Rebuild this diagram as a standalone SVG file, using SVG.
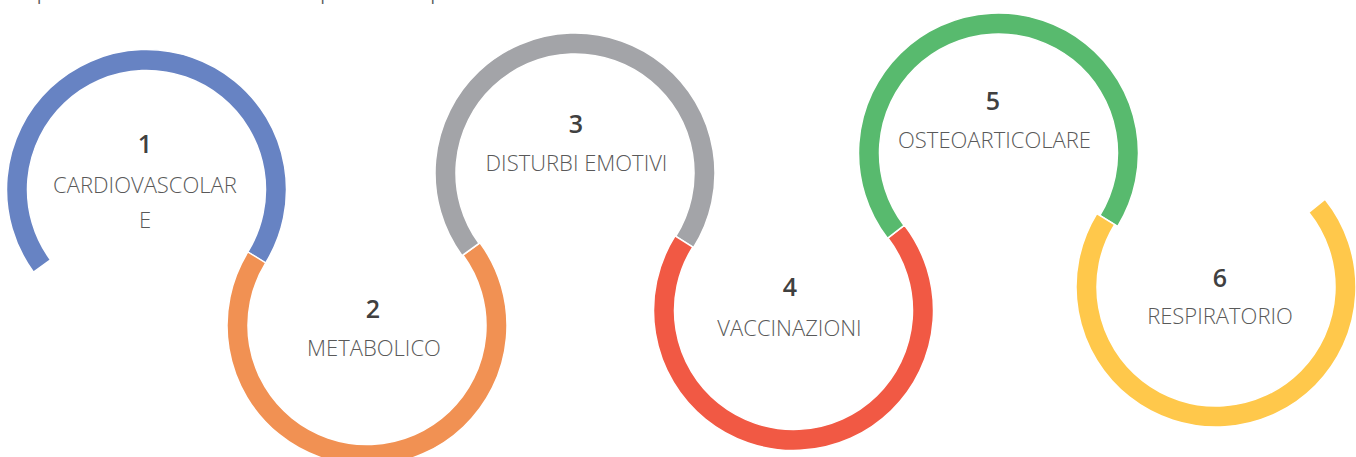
<svg xmlns="http://www.w3.org/2000/svg" width="1356" height="457" viewBox="0 0 1356 457">
<style>
.arc{stroke:#fff;stroke-width:1.5;stroke-linejoin:miter}
.num{font-family:"Open Sans","Liberation Sans",sans-serif;font-size:25px;font-weight:600;fill:#404040;text-anchor:middle}
.lbl{font-family:"Open Sans","Liberation Sans",sans-serif;font-size:22px;font-weight:300;fill:#595959;text-anchor:middle}
.top{font-family:"Open Sans","Liberation Sans",sans-serif;font-size:17px;fill:#595959}
</style>
<rect width="1356" height="457" fill="#fff"/>
<text class="top" x="37" y="-0.5">professionali al momento della compilazione del questionario</text>
<g id="node1">
<path class="arc" fill="#6783C3" d="M33.52,272.18 A140,140 0 1 1 265.61,263.07 L247.75,252.03 A119,119 0 1 0 50.47,259.78 Z"/>
<text class="num" x="145" y="153">1</text>
<text class="lbl" x="145" y="193">CARDIOVASCOLAR</text>
<text class="lbl" x="145" y="228">E</text>
</g>
<g id="node2">
<path class="arc" fill="#F19153" d="M479.98,242.82 A140,140 0 1 1 247.89,251.93 L265.75,262.97 A119,119 0 1 0 463.03,255.22 Z"/>
<text class="num" x="373" y="318">2</text>
<text class="lbl" x="374" y="356">METABOLICO</text>
</g>
<g id="node3">
<path class="arc" fill="#A3A4A8" d="M462.02,255.68 A140,140 0 1 1 693.47,247.61 L675.70,236.42 A119,119 0 1 0 478.97,243.28 Z"/>
<text class="num" x="576" y="133">3</text>
<text class="lbl" x="576.5" y="171">DISTURBI EMOTIVI</text>
</g>
<g id="node4">
<path class="arc" fill="#F15944" d="M904.58,225.27 A140,140 0 1 1 675.03,235.89 L692.80,247.08 A119,119 0 1 0 887.91,238.05 Z"/>
<text class="num" x="790" y="296">4</text>
<text class="lbl" x="789.5" y="336">VACCINAZIONI</text>
</g>
<g id="node5">
<path class="arc" fill="#58BA6E" d="M887.42,238.23 A140,140 0 1 1 1117.74,226.36 L1099.85,215.36 A119,119 0 1 0 904.09,225.45 Z"/>
<text class="num" x="993" y="110">5</text>
<text class="lbl" x="994.5" y="148">OSTEOARTICOLARE</text>
</g>
<g id="node6">
<path class="arc" fill="#FFC84B" d="M1325.10,199.28 A140,140 0 1 1 1096.76,213.64 L1114.65,224.64 A119,119 0 1 0 1308.74,212.43 Z"/>
<text class="num" x="1220" y="287">6</text>
<text class="lbl" x="1220" y="324">RESPIRATORIO</text>
</g>
<g id="connectors"></g>
</svg>
